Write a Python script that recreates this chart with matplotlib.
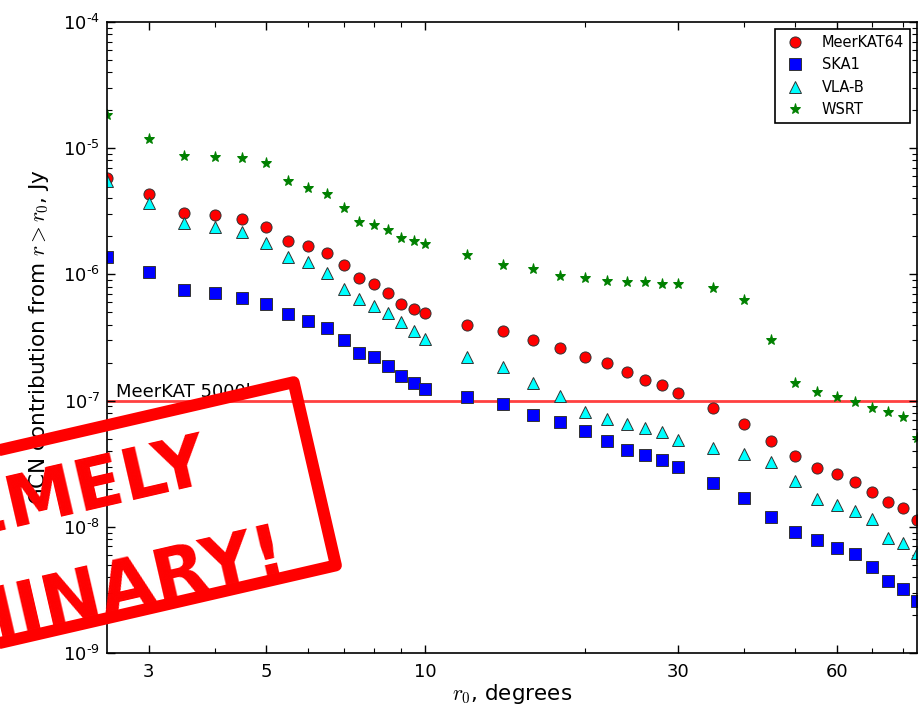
import numpy as np
import matplotlib
matplotlib.use("Agg")
import matplotlib.pyplot as plt
from matplotlib.patches import Rectangle
from matplotlib.transforms import Affine2D
from matplotlib.ticker import FixedLocator, FixedFormatter, LogLocator, NullFormatter, FuncFormatter

# r0 in degrees
r0 = [2.5, 3, 3.5, 4, 4.5, 5, 5.5, 6, 6.5, 7, 7.5, 8, 8.5, 9, 9.5, 10,
      12, 14, 16, 18, 20, 22, 24, 26, 28, 30,
      35, 40, 45, 50, 55, 60, 65, 70, 75, 80, 85]

meerkat64 = [5.84e-6, 4.31e-6, 3.08e-6, 2.96e-6, 2.75e-6, 2.39e-6, 1.84e-6, 1.68e-6,
             1.47e-6, 1.18e-6, 9.31e-7, 8.34e-7, 7.08e-7, 5.82e-7, 5.32e-7, 4.98e-7,
             3.97e-7, 3.56e-7, 3.02e-7, 2.62e-7, 2.23e-7, 1.97e-7, 1.67e-7, 1.46e-7,
             1.33e-7, 1.14e-7,
             8.69e-8, 6.53e-8, 4.79e-8, 3.64e-8, 2.90e-8, 2.62e-8, 2.28e-8, 1.87e-8,
             1.56e-8, 1.42e-8, 1.13e-8]

ska1 = [1.37e-6, 1.05e-6, 7.52e-7, 7.08e-7, 6.53e-7, 5.82e-7, 4.83e-7, 4.30e-7,
        3.74e-7, 3.02e-7, 2.37e-7, 2.23e-7, 1.88e-7, 1.57e-7, 1.39e-7, 1.24e-7,
        1.07e-7, 9.33e-8, 7.69e-8, 6.81e-8, 5.78e-8, 4.81e-8, 4.06e-8, 3.71e-8,
        3.38e-8, 2.99e-8,
        2.21e-8, 1.70e-8, 1.20e-8, 9.14e-9, 7.85e-9, 6.83e-9, 6.05e-9, 4.83e-9,
        3.72e-9, 3.21e-9, 2.58e-9]

vla_b = [5.5e-6, 3.70e-6, 2.54e-6, 2.39e-6, 2.15e-6, 1.76e-6, 1.38e-6, 1.26e-6,
         1.02e-6, 7.66e-7, 6.34e-7, 5.65e-7, 4.91e-7, 4.17e-7, 3.58e-7, 3.08e-7,
         2.20e-7, 1.84e-7, 1.39e-7, 1.09e-7, 8.17e-8, 7.11e-8, 6.49e-8, 6.03e-8,
         5.61e-8, 4.88e-8,
         4.24e-8, 3.78e-8, 3.28e-8, 2.31e-8, 1.65e-8, 1.49e-8, 1.34e-8, 1.15e-8,
         8.2e-9, 7.4e-9, 6.17e-9]

wsrt = [1.83e-5, 1.18e-5, 8.67e-6, 8.57e-6, 8.32e-6, 7.59e-6, 5.49e-6, 4.86e-6,
        4.31e-6, 3.34e-6, 2.62e-6, 2.46e-6, 2.25e-6, 1.95e-6, 1.85e-6, 1.73e-6,
        1.43e-6, 1.19e-6, 1.10e-6, 9.77e-7, 9.31e-7, 8.87e-7, 8.71e-7, 8.66e-7,
        8.34e-7, 8.34e-7,
        7.76e-7, 6.27e-7, 3.02e-7, 1.39e-7, 1.18e-7, 1.07e-7, 9.8e-8, 8.79e-8,
        8.17e-8, 7.45e-8, 5.02e-8]

threshold = 1e-7
threshold_label = "MeerKAT 5000h"
xticks = [3, 5, 10, 30, 60]
xticklabels = ["3", "5", "10", "30", "60"]

plt.rcParams['mathtext.fontset'] = 'cm'
plt.rcParams['axes.unicode_minus'] = False
plt.rcParams['font.family'] = 'DejaVu Sans'

fig = plt.figure(figsize=(9.21, 7.08), dpi=100)
ax = fig.add_axes([0.1162, 0.0777, 0.8795, 0.8912])

ax.axhline(threshold, color='red', alpha=0.75, lw=2, zorder=1)
ax.text(2.6, 1.07e-7, threshold_label, fontsize=13, va='baseline')

mk = dict(linestyle='none', markersize=8, markeredgewidth=0.7)
ax.plot(r0, meerkat64, 'o', color='red', mec='#333333', label='MeerKAT64', **mk)
ax.plot(r0, ska1, 's', color='blue', mec='#333333', label='SKA1', **mk)
ax.plot(r0, vla_b, '^', color='cyan', mec='#333333', label='VLA-B', **mk)
ax.plot(r0, wsrt, '*', color='green', mec='green', label='WSRT', **mk)

ax.set_xscale('log')
ax.set_yscale('log')
ax.set_xlim(2.5, 85)
ax.set_ylim(1e-9, 1e-4)

ax.xaxis.set_major_locator(FixedLocator(xticks))
ax.xaxis.set_major_formatter(FixedFormatter(xticklabels))
ax.xaxis.set_minor_locator(LogLocator(base=10, subs=np.arange(2, 10)))
ax.xaxis.set_minor_formatter(NullFormatter())
ax.yaxis.set_minor_locator(LogLocator(base=10, subs=np.arange(2, 10), numticks=20))
# short hyphen in the exponents, like the old matplotlib output
ax.yaxis.set_major_formatter(FuncFormatter(
    lambda v, pos: r'$\mathdefault{10^{%s}}$' % str(int(round(np.log10(v)))).replace('-', '\u2010')))

ax.tick_params(which='both', direction='in', top=True, right=True, labelsize=13)
ax.tick_params(which='major', length=6, width=1)
ax.tick_params(which='minor', length=3.5, width=0.8)
ax.tick_params(axis='x', pad=7)
ax.tick_params(axis='y', pad=5)
for s in ax.spines.values():
    s.set_linewidth(1.2)

ax.set_xlabel(r'$r_0$, degrees', fontsize=15.5, labelpad=1)
ax.set_ylabel(r'GCN contribution from $r > r_0$, Jy', fontsize=15.5, labelpad=9)

leg = ax.legend(loc='upper right', numpoints=1, fontsize=10.5, fancybox=False,
                edgecolor='black', framealpha=1)
leg.get_frame().set_linewidth(1.2)

# the red "preliminary" stamp, in inches from the figure's lower left corner
stamp_cx, stamp_cy = 0.02, 1.62
stamp_w, stamp_h = 6.42, 1.88
stamp_angle = 13
rect = Rectangle((stamp_cx - stamp_w / 2, stamp_cy - stamp_h / 2), stamp_w, stamp_h,
                 fill=False, edgecolor='red', linewidth=8.6, joinstyle='round',
                 transform=Affine2D().rotate_deg_around(stamp_cx, stamp_cy, stamp_angle)
                 + fig.dpi_scale_trans)
fig.add_artist(rect)
text_cx, text_cy = -0.05, 1.434
fig.text(text_cx / 9.21, text_cy / 7.08, 'EXTREMELY\nPRELIMINARY!',
         rotation=stamp_angle, rotation_mode='anchor', ha='center', va='center',
         multialignment='center', fontsize=51, fontweight='bold', color='red',
         linespacing=1.66)

fig.savefig('out.png', dpi=100)
